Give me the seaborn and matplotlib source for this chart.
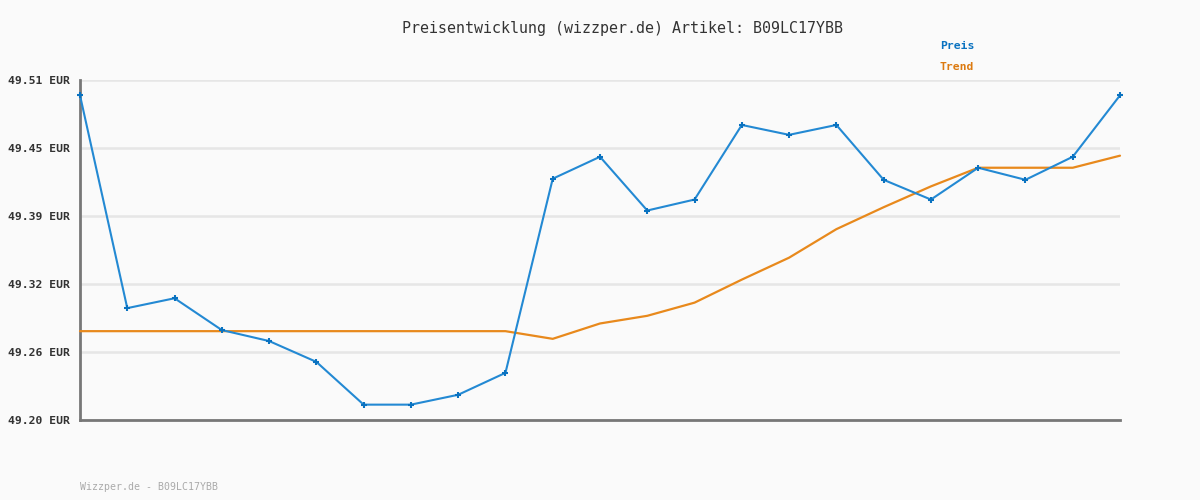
import matplotlib
matplotlib.use("Agg")
import matplotlib.pyplot as plt
import seaborn as sns
import pandas as pd

# ---- data ----
preis = [49.496, 49.302, 49.311, 49.282, 49.272, 49.253, 49.214, 49.214, 49.223, 49.243,
         49.420, 49.440, 49.391, 49.401, 49.469, 49.460, 49.469, 49.419, 49.401, 49.430,
         49.419, 49.440, 49.496]
trend = [49.281, 49.281, 49.281, 49.281, 49.281, 49.281, 49.281, 49.281, 49.281, 49.281,
         49.274, 49.288, 49.295, 49.307, 49.328, 49.348, 49.374, 49.394, 49.413, 49.430,
         49.430, 49.430, 49.441]
y_ticks = [49.20, 49.262, 49.324, 49.386, 49.448, 49.51]
y_tick_labels = ["49.20 EUR", "49.26 EUR", "49.32 EUR", "49.39 EUR", "49.45 EUR", "49.51 EUR"]
title = "Preisentwicklung (wizzper.de) Artikel: B09LC17YBB"
footer = "Wizzper.de - B09LC17YBB"
series_names = ["Preis", "Trend"]

df = pd.DataFrame({"idx": list(range(len(preis))), "Preis": preis, "Trend": trend})

sns.set_style("white")
plt.rcParams["font.family"] = ["DejaVu Sans Mono", "DejaVu Sans"]

BG = "#fafafa"
BLUE = "#2389d3"
BLUE_DARK = "#0a72c0"
ORANGE = "#e8891c"
ORANGE_TXT = "#dc7a10"

fig = plt.figure(figsize=(12, 5), dpi=100, facecolor=BG)
ax = fig.add_axes([80 / 1200, 80 / 500, 1040 / 1200, 340 / 500])
ax.set_facecolor(BG)

sns.lineplot(data=df, x="idx", y="Trend", ax=ax, color=ORANGE, linewidth=1.6, zorder=3)
sns.lineplot(data=df, x="idx", y="Preis", ax=ax, color=BLUE, linewidth=1.5, zorder=4,
             marker="+", markersize=5, markeredgewidth=1.5, markeredgecolor=BLUE_DARK)
for ln in ax.lines:
    ln.set_clip_on(False)

ax.set_xlim(0, len(preis) - 1)
ax.set_ylim(y_ticks[0], y_ticks[-1])
ax.set_yticks(y_ticks)
ax.set_yticklabels(y_tick_labels, fontsize=8.2, fontweight="bold", color="#333333")
ax.set_xticks([])
ax.set_xlabel("")
ax.set_ylabel("")
ax.tick_params(axis="y", length=0, pad=7)

ax.yaxis.grid(True, color="#e6e6e6", linewidth=1.8)
ax.set_axisbelow(True)
for s in ["top", "right"]:
    ax.spines[s].set_visible(False)
for s in ["left", "bottom"]:
    ax.spines[s].set_color("#777777")
    ax.spines[s].set_linewidth(2)

fig.text(623 / 1200, 1 - 28 / 500, title, ha="center", va="center",
         fontsize=10.8, color="#333333")
fig.text(940 / 1200, 1 - 46 / 500, series_names[0], ha="left", va="center",
         fontsize=8.2, fontweight="bold", color=BLUE_DARK)
fig.text(940 / 1200, 1 - 67 / 500, series_names[1], ha="left", va="center",
         fontsize=8.2, fontweight="bold", color=ORANGE_TXT)
fig.text(80 / 1200, 1 - 487 / 500, footer, ha="left", va="center",
         fontsize=7.1, color="#aaaaaa")

fig.savefig("out.png", dpi=100, facecolor=BG)
